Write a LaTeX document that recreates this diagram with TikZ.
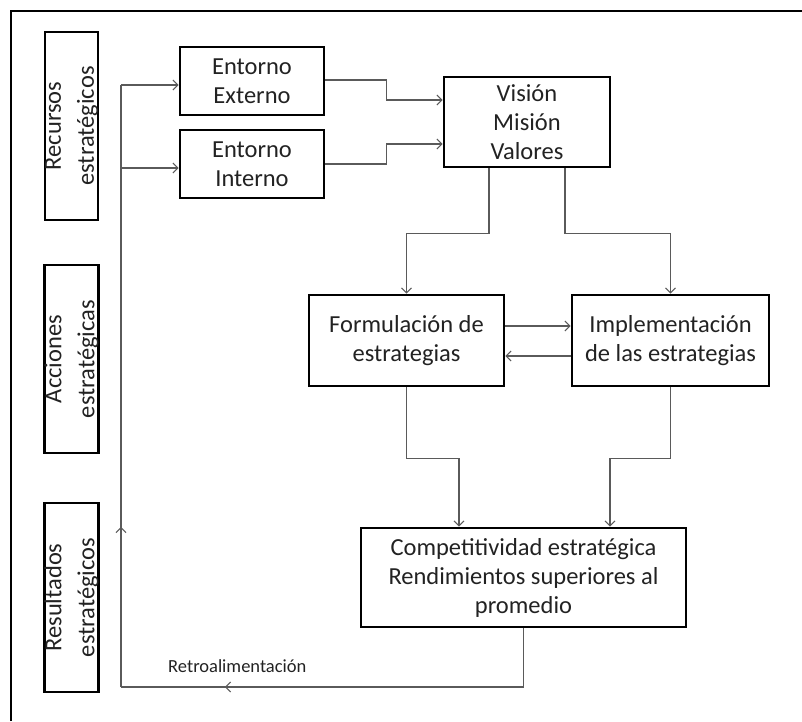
\documentclass[tikz,border=0pt]{standalone}
\usepackage{fontspec}
\setmainfont{Carlito}
\usetikzlibrary{arrows.meta,calc,decorations.markings}
\definecolor{conncol}{HTML}{5A5A5A}
\definecolor{txtcol}{HTML}{222222}
\tikzset{
  tip/.style={-{Straight Barb[length=5pt,width=10pt,line width=1.1pt]}},
  conn/.style={draw=conncol,line width=1.3pt},
  box/.style={draw=black,line width=2.6pt,rectangle,inner sep=0pt,align=center,text=txtcol,
    font=\fontsize{24.5}{29}\selectfont},
  sidebox/.style={box,rotate=90,font=\fontsize{24.5}{33}\selectfont},
}
\begin{document}
\begin{tikzpicture}[x=1pt,y=-1pt]
\useasboundingbox (0,0) rectangle (802,721);
\draw[line width=2pt] (11,721) -- (11,11) -- (802,11);
% side boxes
\node[sidebox,minimum height=53pt,minimum width=188pt] (rec) at (71.5,126) {Recursos\\estratégicos};
\node[sidebox,minimum height=53pt,minimum width=188pt] (acc) at (71.5,359) {Acciones\\estratégicas};
\node[sidebox,minimum height=53pt,minimum width=189pt] (res) at (71.5,597.5) {Resultados\\estratégicos};
% main boxes
\node[box,minimum width=144pt,minimum height=68pt] (ext) at (252,81) {Entorno\\Externo};
\node[box,minimum width=144pt,minimum height=68pt] (int) at (252,164) {Entorno\\Interno};
\node[box,minimum width=166pt,minimum height=90pt] (vis) at (527,122) {Visión\\Misión\\Valores};
\node[box,minimum width=195pt,minimum height=91pt] (form) at (406.5,340.5) {Formulación de\\estrategias};
\node[box,minimum width=197pt,minimum height=91pt] (impl) at (670.5,340.5) {Implementación\\de las estrategias};
\node[box,minimum width=325pt,minimum height=99pt] (comp) at (523.5,577.5) {Competitividad estratégica\\Rendimientos superiores al\\promedio};
% connectors
\draw[conn,tip] ([yshift=1pt]ext.east) -- ++(61,0) |- ([yshift=22pt]vis.west);
\draw[conn,tip] (int.east) -- ++(61,0) |- ([yshift=-22pt]vis.west);
\draw[conn,tip] ([xshift=-38pt]vis.south) -- ++(0,65) -| (form.north);
\draw[conn,tip] ([xshift=38pt]vis.south) -- ++(0,65) -| (impl.north);
\draw[conn,tip] ([yshift=14.5pt]form.east) -- ([yshift=14.5pt]impl.west);
\draw[conn,tip] ([yshift=-15.5pt]impl.west) -- ([yshift=-15.5pt]form.east);
\draw[conn,tip] (form.south) -- ++(0,71) -| ([xshift=-64.5pt]comp.north);
\draw[conn,tip] (impl.south) -- ++(0,71) -| ([xshift=86.5pt]comp.north);
% feedback
\coordinate (fbR) at (523.5,687);
\coordinate (fbL) at (121,687);
\coordinate (fbT) at (121,85);
\path ([yshift=-4pt]int.west) coordinate (intin);
\draw[conn] (comp.south) -- (fbR);
\draw[conn,postaction={decorate},decoration={markings,mark=at position 0.742 with {\arrow{Straight Barb[length=5pt,width=10pt,line width=1.1pt]}}}] (fbR) -- (fbL);
\draw[conn,postaction={decorate},decoration={markings,mark=at position 0.266 with {\arrow{Straight Barb[length=5pt,width=10pt,line width=1.1pt]}}}] (fbL) -- (fbT);
\draw[conn,tip] (fbT) -- ([yshift=-4pt]ext.west);
\draw[conn,tip] (intin -| fbL) -- (intin);
\node[anchor=west,text=txtcol,font=\fontsize{18.5}{22}\selectfont,inner sep=0pt] (retro) at (168,666) {Retroalimentación};
\end{tikzpicture}
\end{document}
